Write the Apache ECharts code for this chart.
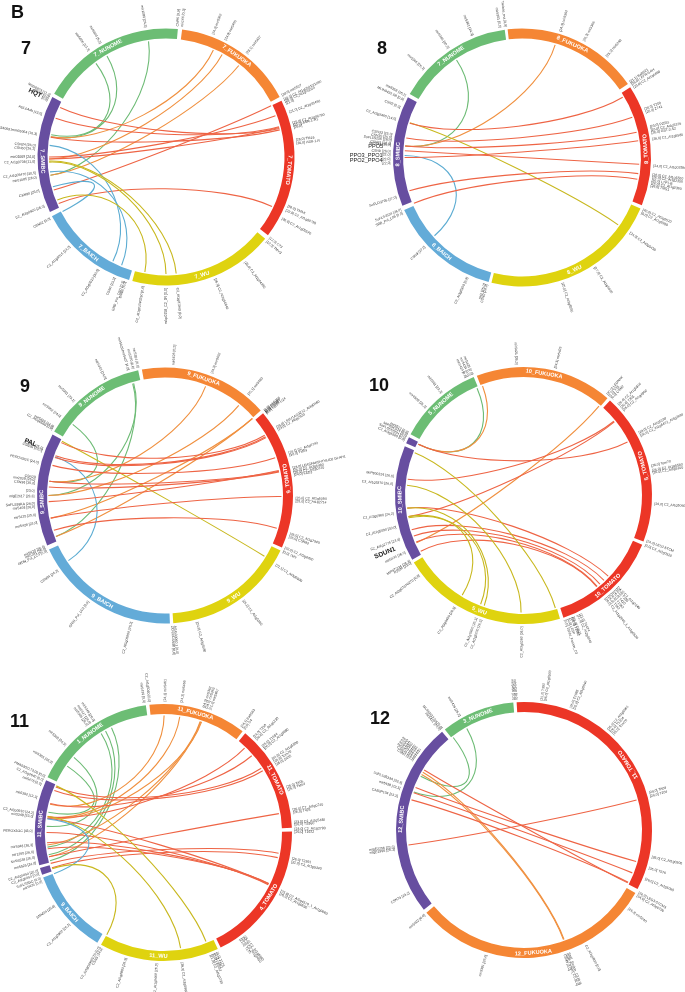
<!DOCTYPE html>
<html>
<head>
<meta charset="utf-8">
<title>Circos plots 7-12</title>
<script src="https://cdn.jsdelivr.net/npm/echarts@6/dist/echarts.min.js"></script>
<style>
  html, body { margin: 0; padding: 0; background: #fff; }
  #chart { width: 685px; height: 992px; }
</style>
</head>
<body>
<div id="chart"></div>
<script>
// angles are degrees clockwise from the top of each circle
// segments: name, start, end, label angle, label flipped, colour key
const segments7 = [
  ['7_NUNOME', 299.5, 365.3, 332, 0, 'g'], ['7_FUKUOKA', 7.2, 62.2, 35, 0, 'o'], ['7_TOMATO', 64, 127.5, 96, 0, 'r'],
  ['7_WU', 129.5, 195.2, 163, 1, 'y'], ['7_BAICH', 196.7, 242.6, 219, 1, 'b'], ['7_SMIBC', 244.6, 297.8, 268, 1, 'p']
]
const segments8 = [
  ['7_NUNOME', 299.5, 352.3, 325, 0, 'g'], ['8_FUKUOKA', -6.4, 55.2, 24, 0, 'o'], ['8_TOMATO', 57, 111.7, 86, 1, 'r'],
  ['8_WU', 113.3, 193.7, 155, 1, 'y'], ['8_BAICH', 195, 246, 220.5, 1, 'b'], ['8_SMIBC', 248, 297.8, 271.5, 0, 'p']
]
const segments9 = [
  ['9_NUNOME', 300, 347.9, 323.5, 0, 'g'], ['9_FUKUOKA', -10.4, 48.4, 18.3, 0, 'o'], ['9_TOMATO', 50, 114, 82, 1, 'r'],
  ['9_WU', 115.5, 176.3, 146, 1, 'y'], ['9_BAICH', 177.8, 245, 210.7, 1, 'b'], ['9_SMIBC', 247, 298.5, 267, 0, 'p']
]
const segments10 = [
  ['5_NUNOME', 298.5, 337.2, 318, 0, 'g'], ['10_FUKUOKA', -21.3, 40.8, 9.6, 0, 'o'], ['5_TOMATO', 42.3, 111, 76, 1, 'r'],
  ['10_TOMATO', 112.5, 161.9, 137, 1, 'r'], ['5_WU', 163.5, 238.6, 201, 1, 'y'], ['10_SMIBC', 240, 292.5, 268, 0, 'p'],
  ['', 294, 297, 295, 0, 'p']
]
const segments11 = [
  ['1_NUNOME', 295.5, 352.1, 323.5, 0, 'g'], ['11_FUKUOKA', -6.3, 38, 15, 0, 'o'], ['11_TOMATO', 39.5, 87.9, 64.7, 0, 'r'],
  ['4_TOMATO', 89.6, 153.6, 121.6, 1, 'r'], ['11_WU', 155, 209.1, 182.3, 1, 'y'], ['9_BAICH', 211, 249.5, 229.7, 1, 'b'],
  ['', 250.8, 254, 252, 0, 'p'], ['11_SMIBC', 255.2, 294, 274, 0, 'p']
]
const segments12 = [
  ['3_NUNOME', 321.8, 355.2, 338, 0, 'g'], ['11_TOMATO', -3.3, 117.5, 57.8, 1, 'r'],
  ['12_FUKUOKA', 119.5, 229.7, 175.6, 1, 'o'], ['12_SMIBC', 231.5, 320.2, 275, 0, 'p']
]

// links: angle at one end, angle at the other end, colour key
const links7 = [
  [351.4, 261, 'g'], [329.7, 280, 'g'], [323.2, 281, 'g'],
  [23.9, 280, 'o'], [28.7, 269, 'o'], [38.5, 261, 'o'],
  [295.1, 75.9, 'r'], [289.3, 75, 'r'], [279.7, 76.6, 'r'], [270, 69.4, 'r'], [269, 75.4, 'r'], [253.6, 64, 'r'], [246.6, 115, 'r'],
  [275.7, 207, 'b'], [262.7, 202.3, 'b'], [255.3, 242.2, 'b'],
  [268, 175, 'y'], [267.5, 180, 'y'], [248.4, 190.4, 'y']
]
const links8 = [
  [326.1, 275.6, 'g'], [16.4, 275.6, 'o'], [228.2, 271, 'b'], [287.2, 125, 'y'],
  [287, 59.1, 'r'], [279.6, 70, 'r'], [275.6, 77.6, 'r'], [270, 81.8, 'r'], [273.3, 93.3, 'r'], [253.5, 97.9, 'r'], [247, 100.7, 'r']
]
const links9 = [
  [307.6, 277, 'g'], [344.4, 270, 'g'], [343.9, 249.4, 'g'],
  [20.4, 277, 'o'], [39.3, 270, 'o'], [48.6, 258.8, 'o'], [48.6, 249.4, 'o'],
  [236, 289.4, 'b'], [297.8, 121.4, 'y'],
  [297, 58.9, 'r'], [290, 59.7, 'r'], [289, 60.2, 'r'], [285, 71.1, 'r'], [277, 78, 'r'], [274.2, 78.3, 'r'], [267, 77.6, 'r'], [258.8, 90.5, 'r'], [252.6, 106.3, 'r']
]
const links10 = [
  [336.6, 296, 'g'], [339.5, 296, 'o'], [40.2, 246.2, 'o'],
  [296, 62.8, 'r'], [278, 50.6, 'r'], [259.6, 51, 'r'],
  [263.8, 133.6, 'r'], [253, 136.5, 'r'], [249.7, 139.2, 'r'], [246.6, 141, 'r'], [241.5, 141.3, 'r'],
  [291.5, 164.2, 'y'], [275, 181.2, 'y'], [259, 211.6, 'y'], [263.8, 199.6, 'y'], [259.6, 201.5, 'y']
]
const links11 = [
  [304.6, 280, 'g'], [310, 273, 'g'], [327.8, 262.8, 'g'], [330.3, 259, 'g'], [333.6, 256, 'g'],
  [0.3, 284, 'o'], [8, 277.6, 'o'], [18.3, 263.9, 'o'], [18.6, 258, 'o'], [19, 277, 'o'],
  [292.9, 56.7, 'r'], [291, 58.1, 'r'], [284.4, 49, 'r'], [277.8, 43.9, 'r'], [258, 80.7, 'r'],
  [270, 116.5, 'r'], [265, 116, 'r'], [262, 115.8, 'r'], [277, 116.2, 'r'], [254.7, 100.2, 'r'], [252.5, 102.4, 'r'],
  [276.7, 249.4, 'b'],
  [293.5, 158.7, 'y'], [278, 171.6, 'y'], [252, 209, 'y']
]
const links12 = [
  [330.6, 289, 'g'], [322.6, 297.5, 'g'],
  [159.9, 299.7, 'o'], [160.2, 298.5, 'o'],
  [262.6, 75.1, 'r'], [301, 117, 'r'], [291.4, 105.7, 'r'], [288.7, 111.6, 'r'], [285, 116.6, 'r']
]

// labels: angle, text, callout flag
const labels7 = [
  [351, 'mir1089 [24,3]'], [5, 'CNR5 [0,0]'], [7, 'mir166 [0,3]'], [330, 'mir5808 [5,2]'], [324, 'mir5806 [13,3]'],
  [298, 'MSD0923 [11,3]'], [296.8, 'CSN2 [0,0]'], [295.6, '[0,0]'], [296, 'HQT', 1], [289, 'AGL6Adh [13,0]'],
  [280, 'mma5340081mm05064 [10,3]'], [275, 'CSN24 [26,0]'], [273.5, 'CSN60 [26,2]'], [270, 'mir01069 [24,0]'], [268, 'C2_At1g0708 [11,0]'],
  [263, 'C2_At1g05470 [30,5]'], [261, 'mir01085 [26,0]'], [255, 'CSN90 [25,0]'], [248, 'C2_At1g0920 [26,0]'], [242, 'CSN52 [0,0]'],
  [227, 'C2_At1g6016 [24,0]'], [211, 'C2_At1g0510 [30,5]'], [203, 'CSN6 [23,3]'], [199, 'GRD_Pol_CSD [0,3]'], [198, 'DMBc [5,0]'],
  [190, 'C2_At1g01040250 [0,0]'], [180, 'mlop0258_C2_0R [0,0]'], [175, 'C2_At1g07040 [8,0]'], [158, '[26,0] C2_At1g54640'], [143, '[26,0] C2_At1g04390'],
  [130, '[12,0] TMV3'], [128, '[12,0] C73'], [118, '[30,0] C2_At1g05570'], [114, '[28,0] C2_At1g08790'], [112, '[28,0] TMAK'],
  [84, '[26,0] ASR-1-R'], [82.5, '[26,0] TM16'], [77, '[25,0]'], [76, '[25,0] ASR-1-H1'], [75, '[25,0] C2_At1g06790'],
  [70, '[21,0] C2_At1g05460'], [66, '[21,0]'], [65, '[26,0] C2_At1g05040'], [64, '[30,0] C2_At1g05010/1090'], [62, '[30,0] mir5527'],
  [21, '[24,3] mir5362'], [27, '[24,0] mir5465'], [38, '[28,1] mir5437']
]
const labels8 = [
  [337.9, 'mir5361 [24,3]'], [326, 'mir5365 [10,3]'], [312, 'mir5366 [26,2]'], [298, 'mir6358 [26,2]'], [296, 'MLIN0432.5B [0,0]'],
  [292.4, 'CSN2 [0,3]'], [286.8, 'C2_At3g5460 [14,0]'], [280, 'CSN33 [25,0]'], [278.6, 'CSN35 [25,0]'], [277.5, 'SoFL5S256 [26,0]'],
  [276, 'CSN31 [26,0]'], [275.4, 'mir0221 [26,0]'], [274.7, 'PPO5', 2], [272.6, 'CSN9 [26,0]'], [271, 'PPO3_PPO1', 2], [268.9, 'PPO2_PPO4', 2],
  [271.2, '[22,0]'], [269.3, '[22,0]'], [267.6, '[22,0]'], [252.4, 'SoFLO3766 [27,0]'], [246.7, 'SoFLS3534 [26,0]'], [245, 'SRB_Pol_L06 [0,0]'],
  [227.4, 'CSN9 [27,0]'], [204.5, 'C2_At3g8360 [0,0]'], [196.5, 'SK2 [25,0]'], [195.5, 'CSN2 [26,0]'],
  [162.1, '[25,0] C2_At3g5550'], [146.5, '[27,0] C2_At1g5430'], [124.9, '[24,0] C2_At3g5430'], [115, '[0,0] C2_At1g5900'], [113.4, '[40,0] C2_At3g0520'],
  [102.4, '[26,0] TMS1'], [101.2, '[26,0] C2_At1g5360'], [100, '[26,0] LTP1-B'], [98.6, '[26,0] C2_At1g2350'], [97.5, '[26,0] C2_At1g5550'], [93.7, '[24,0] C2_At1g02590'],
  [82, '[26,0] C2_At1g5580'], [79.3, '[26,0] GST-3.S2'], [78, '[26,0] C2_At1g5376'], [76.5, '[23,0] P2551'], [70, '[26,0] Z741'], [68.5, '[28,0] T200'],
  [58, '[23,0] C2_At1g6490'], [56.3, '[26,0] LEFR-5-6H'], [55, '[21,1] Ba0S21'], [17, '[24,3] mir5350'], [28, '[26,3] mir5366'], [40, '[25,0] mir5248'],
  [350.3, 'mir5361 [0,0]'], [352.8, 'Trelase_rna [0,0]']
]
const labels9 = [
  [3.7, 'mir5426 [0,2]'], [21, '[24,3] mir5432'], [39.6, '[20,1] mir5483'], [49.5, '[0,0] mir6355'], [50, '[0,0] CSN95'], [50.5, '[0,0] CSN4'], [51, '[0,0] LGST-U24'],
  [58.6, '[28,0] LE0U1AG3Z12_At3g0460'], [59.8, '[23,0] C2_At5g2920'], [71, '[20,1] C2_At1g0740'], [72.2, '[30,0] TM53'],
  [77.8, '[28,0] LEASFAK5HTVLIC6 GI-AH1'], [79, '[26,0] C2_At3g6480'], [80, '[26,0] C2_At1g0720'], [81, '[24,0] FAD3'],
  [91.2, '[25,0] C2_At1g5094'], [92.5, '[25,0] C2_At1g2714'], [107.1, '[26,0] C2_At1g7940'], [108.5, '[26,0] CSN93'], [113.6, '[28,0] C2_At3g6480'], [115.5, '[0,0] TMV'],
  [122.1, '[22,1] C2_At3g0930'], [143.3, '[26,0] C2_At1g5390'], [165.8, '[24,0] C2_At3g5580'], [175.6, 'At1G30060.1 [0,0]'], [176.8, 'ZCN3/CSN80 [0,0]'],
  [194.8, 'C2_At1g06960 [26,2]'], [215.9, 'GRIN_Pol_LC3 [0,0]'], [235, 'CSN94 [24,2]'], [247, 'mir5420 [26,0]'], [246, 'mir5381 [26,0]'], [244.8, 'GRIN_Pol_LC3 [0,0]'],
  [258, 'mir5428 [23,0]'], [261.5, 'mir5425 [25,0]'], [265, 'mir5408 [26,0]'], [266.5, 'SoFLS38KA [26,0]'], [269.7, 'mlgE2617 [23,3]'], [272, '[23,0]'],
  [275.3, 'CSN36 [25,0]'], [276.8, 'mir2029 [26,0]'], [278, 'CSN29'], [284.5, 'PEROX5GC [24,0]'], [290, 'CSN35 [24,0]'], [291, 'CSN4 [25,0]'], [291.5, 'PAL', 1],
  [300.5, 'C2_At3g6560 [0,0]'], [301.5, 'mir5426 [24,0]'], [307, 'mir5362 [24,0]'], [316, 'mir5361 [23,1]'], [333, 'mir5363 [24,0]'],
  [343.7, 'mir5429/mir5427 [4,0]'], [345.9, 'mir5370 [0,0]'], [348, 'mir5364 [0,0]']
]
const labels10 = [
  [357, 'mir5421 [26,3]'], [14.1, '[24,3] mir5425'], [39.7, '[30,0] LEDNAK'], [41, '[1,0] Y35'], [42.3, '[0,0] CSN2'],
  [46.3, '[26,0] C2_At1g6910'], [48, '[26,0] T365'], [49.5, '[26,0] C2_At1g4960'], [61.5, '[28,0] C2_At1g5230'], [63, '[29,0] C2_At1g6472_At3g2980'],
  [77, '[26,0] Tom70'], [79, '[26,0] C2_At1g5580'], [80, '[26,0] C2_At1g5100'], [93.7, '[26,0] C2_At1g5060'], [110.3, '[24,0] LES2-5TCM'], [112.3, '[0,0] C2_At3g0520'],
  [134.3, '[24,3] C2_At1g2940'], [135.5, '[26,0] T236'], [137, '[26,0] T420'], [138.5, '[26,0] T1362'], [140, '[26,0] T362'], [141.5, '[26,0] C2_At1g2940_1_At1g0520'],
  [154.3, '[21,0] T4474'], [155.5, '[21,0] C2_At2g0240'], [157.8, '[26,0] T0621'], [158.5, '[26,0] T2062'], [160, '[0,0] LE3P'], [161.5, '[0,0] TSNN_Fusion_C3'],
  [180.7, 'C2_At3g5280 [26,0]'], [198.8, 'C2_At1g5700 [26,3]'], [201, 'C2_At1g0990 [26,3]'], [211.6, 'C2_At3g0450 [26,3]'], [232.5, 'C2_At3g07070270 [0,0]'],
  [240, 'MIP87/234 [26,3]'], [239, 'P2GM [23,0]'], [244.3, 'mir5433 [26,0]'], [247.5, 'SDUN1', 1], [250.5, 'C2_At1g2776 [23,0]'], [256, 'C2_At1g5090 [30,0]'], [262, 'C2_At3g0960 [24,2]'],
  [275, 'C2_At1g5270 [26,0]'], [278.4, 'MIP800324 [26,0]'], [295, 'C2_At3g5560 [0,0]'], [296.3, 'SoFLS5SG5H [0,0]'], [297.5, 'MIP8DC524 [0,0]'], [298.5, 'mir5512 [0,0]'],
  [312, 'mir6509 [26,3]'], [321.4, 'mir5511 [23,3]'], [334, 'mir5424 [0,0]'], [335.5, 'mir5434 [0,0]'], [337, 'mir5425 [0,0]']
]
const labels11 = [
  [351.5, 'mir5439 [0,0]'], [353.8, 'C2_At1g5080 [0,0]'], [0.7, '[24,3] mir5461'], [8, '[24,3] mir5465'], [17.9, '[24,3] mir5362'], [19.2, '[24,0] mir5363'], [20.8, '[21,3] mir5467'],
  [36.5, '[24,1] Ba0S63'], [38, '[0,0] S4'], [43.5, '[24,0] T250'], [45, '[26,0] C2_At1g5230'], [49, '[26,0] T1694'], [50.3, '[26,0] C2_At1g5980'],
  [56, '[24,0] C2_At1g5590'], [57.5, '[26,0] Tom70'], [59, '[26,0] S435'], [69.8, '[26,0] TA05'], [71, '[26,0] TM53'], [80, '[26,0] C2_At1g0740'], [81.2, '[26,0] T425'],
  [85.5, '[23,0] C2_At1g5480'], [86.5, '[26,0] TS360'], [88.5, '[23,0] C2_At1g2790'], [90, '[26,0] T1672'], [101.5, '[26,0] T2361'], [103, '[21,0] C2_At1g5340'],
  [116.5, '[25,0] C2_At5g4570_1_At1g0660'], [117.8, '[26,0] C2_At1g0530'], [142.1, '[25,0] C2_At1g5960'], [143.2, '[26,0] C2_At1g0450'], [144.3, '[21,0] T175'],
  [155.9, '[0,0] T175'], [156.8, '[0,0] TSN1'], [157.7, '[0,0] LEGST'], [158.9, '[21,0] C2_At1g0730'], [172, '[26,0] C2_At1g5960'],
  [183, 'C2_At1g0460 [26,0]'], [196.6, 'C2_At1g0980 [26,3]'], [208, 'CSN3 [24,0]'], [209.3, 'C2_At1g03960270 [0,0]'], [225.7, 'C2_At1g0900 [26,3]'], [236, 'SMN5H [25,0]'],
  [248, 'mir5435 [0,0]'], [249.5, 'SoFLS8GC [0,0]'], [251.5, 'C2_At1g5450 [0,0]'], [253, 'C2_At1g5050 [26,0]'], [256.5, 'mir5525 [24,0]'], [259, 'SoSS538 [26,0]'],
  [261.5, 'mir1265 [26,0]'], [264.5, 'mir5348 [26,3]'], [270.6, 'PEROX3GC [43,0]'], [277, 'mir5348 [23,0]'], [278.5, 'C2_At3g0910 [24,2]'], [285.5, 'mir5392 [13,3]'],
  [291.5, 'mir5476 [0,0]'], [293.5, 'C2_At1g0640 [0,0]'], [295.3, 'PMA0302173.00 [0,0]'], [302, 'mir5365 [26,3]'], [311.7, 'mir5368 [26,3]'],
  [324.5, 'mir5345 [26,0]'], [326, 'mir5347 [26,0]'], [328, 'mir5349 [26,0]']
]
const labels12 = [
  [355.5, 'mir5456 [0,0]'], [356.5, 'mir5430 [0,0]'], [7.8, '[21,0] T350'], [9.4, '[26,0] C2_At1g0500'], [21, '[26,0] T2085'], [22.6, '[25,0] C2_At1g5640'],
  [40, '[25,0] C2_At1g6960'], [41.5, '[26,0] T1204'], [43, '[26,0] Tom70'], [73.4, '[28,0] TA08'], [75, '[26,0] T204'], [102, '[26,0] C2_At1g0500'], [107, '[26,0] T576'],
  [112, '[26,0] C2_At1g5060'], [118.7, '[24,0] LEG3-5TCM3'], [120.2, '[24,0] C2_At3g0790'], [126.9, '[26,3] mir5240'], [151.7, 'C2_At1g0930 [0,0]'],
  [160, 'SNR_Fusion_C3 [0,0]'], [161, 'SNR_Fusion_C5 [0,0]'], [162, 'CSN3 [0,0]'], [196.8, 'mir5391 [26,0]'], [229.4, 'mir5402 [0,0]'], [241.3, 'CSN74 [24,2]'],
  [261.5, 'mlgE1996 [26,3]'], [262.6, 'mlgE2256 [23,3]'], [285, 'CAB3P104 [23,3]'], [288.5, 'mir5458 [23,3]'], [291, 'SoFLS3533A [23,3]'],
  [302.3, 'CSN2 [23,1]'], [303.3, 'CSN46 [23,1]'], [304.3, 'mir5467 [23,1]'], [305.3, 'mir5462 [23,1]'], [306.3, 'mir5466 [23,1]'], [307.3, 'mir5473 [23,1]'],
  [320, 'mir5412 [26,0]'], [321, 'MLIN0432.5H [0,0]'], [330.5, 'mir5439 [26,2]']
]

const ringColors = { g: '#6cbd74', o: '#f58634', r: '#ec3626', y: '#dfd30f', b: '#63abd8', p: '#674ea0' }
const linkColors = { g: '#6dbb75', o: '#f0903f', r: '#ee6445', y: '#c8b81e', b: '#5cacd2' }

// circle centre and outer radius in pixels for each plot, then its number
const panels = [
  { cx: 166, cy: 157, r: 128.5, num: '7', numX: 21, numY: 40, segments: segments7, links: links7, labels: labels7 },
  { cx: 522, cy: 157.5, r: 129, num: '8', numX: 377, numY: 40, segments: segments8, links: links8, labels: labels8 },
  { cx: 165, cy: 495.5, r: 128, num: '9', numX: 20, numY: 378, segments: segments9, links: links9, labels: labels9 },
  { cx: 523.5, cy: 495.5, r: 128.5, num: '10', numX: 369, numY: 377, segments: segments10, links: links10, labels: labels10 },
  { cx: 163.5, cy: 832.5, r: 128.5, num: '11', numX: 10, numY: 713, segments: segments11, links: links11, labels: labels11 },
  { cx: 524, cy: 830, r: 128, num: '12', numX: 370, numY: 710, segments: segments12, links: links12, labels: labels12 }
]

const RADIUS_MAX = 1.4 // room outside the ring for the labels
const RING_INNER = 0.922
const LINK_END = 0.91
const LINK_CTRL = 0.5
const deg2rad = Math.PI / 180

const segmentSeries = (p, i) => ({
  type: 'custom',
  coordinateSystem: 'polar',
  polarIndex: i,
  silent: true,
  data: p.segments.map(s => [1, s[3]]),
  renderItem: (params, api) => {
    const s = p.segments[params.dataIndex]
    const cs = params.coordSys
    const unit = cs.r / RADIUS_MAX
    const mid = api.coord([0.961, api.value(1)])
    const rot = (s[4] ? 180 - s[3] : -s[3]) * deg2rad
    return {
      type: 'group',
      children: [
        {
          type: 'sector',
          shape: {
            cx: cs.cx, cy: cs.cy, r0: unit * RING_INNER, r: unit,
            startAngle: (s[1] - 90) * deg2rad, endAngle: (s[2] - 90) * deg2rad, clockwise: true
          },
          style: { fill: ringColors[s[5]] }
        },
        {
          type: 'text',
          x: mid[0], y: mid[1], rotation: rot,
          style: {
            text: s[0], fill: '#fff', fontSize: 5.6, fontWeight: 'bold', fontFamily: 'Liberation Sans',
            align: 'center', verticalAlign: 'middle'
          }
        }
      ]
    }
  }
})

const linkSeries = (p, i) => ({
  type: 'custom',
  coordinateSystem: 'polar',
  polarIndex: i,
  silent: true,
  data: p.links.map(l => [LINK_END, l[0], l[1]]),
  renderItem: (params, api) => {
    const a = api.value(1)
    const b = api.value(2)
    const p1 = api.coord([LINK_END, a])
    const p2 = api.coord([LINK_END, b])
    const c1 = api.coord([LINK_CTRL, a])
    const c2 = api.coord([LINK_CTRL, b])
    return {
      type: 'bezierCurve',
      shape: { x1: p1[0], y1: p1[1], x2: p2[0], y2: p2[1], cpx1: c1[0], cpy1: c1[1], cpx2: c2[0], cpy2: c2[1] },
      style: { fill: null, stroke: linkColors[p.links[params.dataIndex][2]], lineWidth: 1.1 }
    }
  }
})

const labelSeries = (p, i) => ({
  type: 'custom',
  coordinateSystem: 'polar',
  polarIndex: i,
  silent: true,
  data: p.labels.map(l => [l[2] ? 1.08 : 1.02, l[0]]),
  renderItem: (params, api) => {
    const l = p.labels[params.dataIndex]
    const a = api.value(1)
    const pt = api.coord([api.value(0), a])
    const rightSide = a < 180
    // PPO gene pairs sit level, the other callouts follow the radius
    const rot = l[2] === 2 ? 0 : (rightSide ? 90 - a : 270 - a) * deg2rad
    return {
      type: 'text',
      x: pt[0], y: pt[1], rotation: rot,
      style: {
        text: l[1],
        fill: l[2] ? '#222' : '#3a3a3a',
        fontSize: l[2] === 2 ? 5.6 : (l[2] ? 6.6 : 3.5),
        fontWeight: l[2] === 1 ? 'bold' : 'normal',
        fontFamily: 'Liberation Sans',
        align: rightSide ? 'left' : 'right',
        verticalAlign: 'middle'
      }
    }
  }
})

const numberStyle = { color: '#111', fontSize: 18, fontWeight: 'bold', fontFamily: 'Liberation Sans' }

const chart = echarts.init(document.getElementById('chart'))
chart.setOption({
  animation: false,
  backgroundColor: '#fff',
  title: [{ text: 'B', left: 11, top: 4, padding: 0, textStyle: numberStyle }].concat(
    panels.map(p => ({ text: p.num, left: p.numX, top: p.numY, padding: 0, textStyle: numberStyle }))
  ),
  polar: panels.map(p => ({ center: [p.cx, p.cy], radius: p.r * RADIUS_MAX })),
  angleAxis: panels.map((p, i) => ({ polarIndex: i, type: 'value', min: 0, max: 360, startAngle: 90, clockwise: true, show: false })),
  radiusAxis: panels.map((p, i) => ({ polarIndex: i, type: 'value', min: 0, max: RADIUS_MAX, show: false })),
  series: panels.flatMap((p, i) => [linkSeries(p, i), segmentSeries(p, i), labelSeries(p, i)])
})
</script>
</body>
</html>
